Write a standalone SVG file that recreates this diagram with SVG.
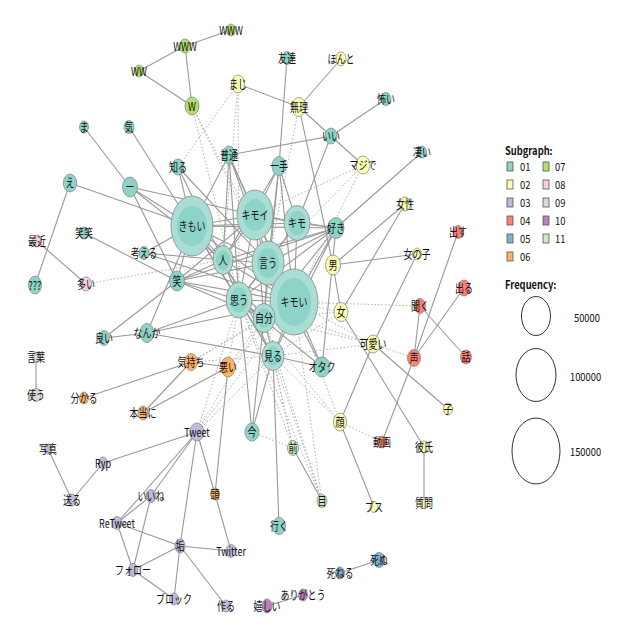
<svg xmlns="http://www.w3.org/2000/svg" width="640" height="640" viewBox="0 0 640 640">
<style>
.e line{stroke:#999;stroke-width:1.1}
.d line{stroke:#b0b0b0;stroke-width:1;stroke-dasharray:1.5 2}
ellipse{stroke:#8a8a8a;stroke-width:.8}
.in{stroke:none}
.c01{fill:#8dd3c7}.c02{fill:#ffffb3}.c03{fill:#bebada}.c04{fill:#fb8072}.c05{fill:#80b1d3}.c06{fill:#fdb462}.c07{fill:#b3de69}.c08{fill:#fccde5}.c09{fill:#d9d9d9}.c10{fill:#bc80bd}.c11{fill:#ccebc5}
.o{fill:#a9ded5}
text{font-family:"Noto Sans CJK JP","Noto Sans",sans-serif;font-size:12px;fill:#111}
.t{text-anchor:middle;dominant-baseline:central;transform:scaleX(.75);transform-box:fill-box;transform-origin:50% 50%}
.lg{font-size:11px;dominant-baseline:central;transform:scaleX(.85);transform-box:fill-box;transform-origin:0 50%}
.lb{font-weight:bold}
.sq{stroke:#555;stroke-width:.8}
.fc{fill:none;stroke:#333;stroke-width:1}
</style>
<rect width="640" height="640" fill="#fff"/>
<g id="edges">
<g class="e">
<line x1="231" y1="30" x2="185" y2="46"/><line x1="185" y1="46" x2="139" y2="71"/><line x1="185" y1="46" x2="192" y2="106"/><line x1="139" y1="71" x2="192" y2="106"/>
<line x1="238" y1="84" x2="299" y2="107"/><line x1="341" y1="59" x2="299" y2="107"/><line x1="299" y1="107" x2="331" y2="136"/><line x1="331" y1="136" x2="386" y2="99"/><line x1="331" y1="136" x2="363" y2="165"/><line x1="331" y1="136" x2="229" y2="155"/><line x1="331" y1="136" x2="297" y2="223"/><line x1="299" y1="107" x2="333" y2="265"/><line x1="287" y1="58" x2="279" y2="166"/>
<line x1="422" y1="152" x2="336" y2="228"/><line x1="405" y1="204" x2="333" y2="265"/><line x1="405" y1="204" x2="341" y2="312"/><line x1="333" y1="265" x2="417" y2="254"/><line x1="333" y1="265" x2="341" y2="312"/><line x1="417" y1="254" x2="373" y2="344"/><line x1="373" y1="344" x2="340" y2="422"/><line x1="341" y1="312" x2="424" y2="447"/><line x1="373" y1="344" x2="448" y2="409"/><line x1="340" y1="422" x2="374" y2="507"/><line x1="424" y1="447" x2="424" y2="503"/>
<line x1="420" y1="306" x2="414" y2="358"/><line x1="420" y1="306" x2="466" y2="357"/><line x1="414" y1="358" x2="458" y2="232"/><line x1="414" y1="358" x2="464" y2="288"/><line x1="414" y1="358" x2="382" y2="442"/>
<line x1="84" y1="127" x2="130" y2="187"/><line x1="129" y1="127" x2="192" y2="226"/><line x1="70" y1="183" x2="192" y2="226"/><line x1="70" y1="183" x2="35" y2="285"/><line x1="130" y1="187" x2="192" y2="226"/><line x1="130" y1="187" x2="255" y2="215"/><line x1="130" y1="187" x2="223" y2="260"/><line x1="130" y1="187" x2="177" y2="281"/>
<line x1="178" y1="167" x2="223" y2="260"/><line x1="178" y1="167" x2="268" y2="263"/><line x1="178" y1="167" x2="192" y2="226"/>
<line x1="37" y1="241" x2="86" y2="284"/><line x1="84" y1="233" x2="177" y2="281"/><line x1="36" y1="357" x2="36" y2="395"/>
<line x1="84" y1="398" x2="191" y2="362"/><line x1="191" y1="362" x2="143" y2="413"/><line x1="191" y1="362" x2="228" y2="367"/><line x1="143" y1="413" x2="228" y2="367"/><line x1="228" y1="367" x2="215" y2="494"/><line x1="215" y1="494" x2="231" y2="551"/><line x1="197" y1="432" x2="215" y2="494"/>
<line x1="197" y1="432" x2="103" y2="463"/><line x1="197" y1="432" x2="117" y2="523"/><line x1="197" y1="432" x2="151" y2="496"/><line x1="197" y1="432" x2="180" y2="546"/><line x1="103" y1="463" x2="72" y2="500"/><line x1="72" y1="500" x2="48" y2="449"/><line x1="151" y1="496" x2="117" y2="523"/><line x1="151" y1="496" x2="133" y2="570"/><line x1="117" y1="523" x2="133" y2="570"/><line x1="117" y1="523" x2="180" y2="546"/><line x1="180" y1="546" x2="133" y2="570"/><line x1="180" y1="546" x2="174" y2="599"/><line x1="133" y1="570" x2="174" y2="599"/><line x1="180" y1="546" x2="231" y2="551"/><line x1="180" y1="546" x2="226" y2="606"/>
<line x1="379" y1="560" x2="340" y2="573"/><line x1="267" y1="606" x2="303" y2="595"/><line x1="293" y1="448" x2="322" y2="501"/>
<line x1="273" y1="356" x2="279" y2="526"/><line x1="273" y1="356" x2="252" y2="432"/><line x1="239" y1="300" x2="252" y2="432"/><line x1="264" y1="318" x2="252" y2="432"/>
<line x1="147" y1="333" x2="104" y2="338"/><line x1="104" y1="338" x2="177" y2="281"/><line x1="192" y1="226" x2="147" y2="333"/><line x1="147" y1="333" x2="239" y2="300"/><line x1="147" y1="333" x2="294" y2="302"/><line x1="147" y1="333" x2="273" y2="356"/>
<line x1="144" y1="253" x2="192" y2="226"/><line x1="144" y1="253" x2="223" y2="260"/><line x1="144" y1="253" x2="294" y2="302"/>
<line x1="192" y1="226" x2="255" y2="215"/><line x1="192" y1="226" x2="223" y2="260"/><line x1="192" y1="226" x2="268" y2="263"/><line x1="192" y1="226" x2="239" y2="300"/><line x1="192" y1="226" x2="294" y2="302"/><line x1="192" y1="226" x2="264" y2="318"/><line x1="192" y1="226" x2="273" y2="356"/><line x1="192" y1="226" x2="177" y2="281"/><line x1="192" y1="226" x2="336" y2="228"/><line x1="192" y1="226" x2="297" y2="223"/>
<line x1="255" y1="215" x2="297" y2="223"/><line x1="255" y1="215" x2="223" y2="260"/><line x1="255" y1="215" x2="268" y2="263"/><line x1="255" y1="215" x2="239" y2="300"/><line x1="255" y1="215" x2="294" y2="302"/><line x1="255" y1="215" x2="264" y2="318"/><line x1="255" y1="215" x2="336" y2="228"/>
<line x1="297" y1="223" x2="336" y2="228"/><line x1="297" y1="223" x2="268" y2="263"/><line x1="297" y1="223" x2="294" y2="302"/><line x1="297" y1="223" x2="239" y2="300"/>
<line x1="223" y1="260" x2="268" y2="263"/><line x1="223" y1="260" x2="239" y2="300"/><line x1="223" y1="260" x2="294" y2="302"/><line x1="223" y1="260" x2="177" y2="281"/><line x1="223" y1="260" x2="273" y2="356"/>
<line x1="268" y1="263" x2="294" y2="302"/><line x1="268" y1="263" x2="239" y2="300"/><line x1="268" y1="263" x2="264" y2="318"/><line x1="268" y1="263" x2="336" y2="228"/>
<line x1="294" y1="302" x2="239" y2="300"/><line x1="294" y1="302" x2="264" y2="318"/><line x1="294" y1="302" x2="273" y2="356"/><line x1="294" y1="302" x2="322" y2="367"/><line x1="294" y1="302" x2="336" y2="228"/>
<line x1="239" y1="300" x2="264" y2="318"/><line x1="239" y1="300" x2="273" y2="356"/><line x1="239" y1="300" x2="177" y2="281"/><line x1="264" y1="318" x2="273" y2="356"/><line x1="273" y1="356" x2="322" y2="367"/><line x1="268" y1="263" x2="322" y2="367"/><line x1="239" y1="300" x2="322" y2="367"/>
<line x1="279" y1="166" x2="255" y2="215"/><line x1="279" y1="166" x2="223" y2="260"/><line x1="279" y1="166" x2="268" y2="263"/><line x1="279" y1="166" x2="294" y2="302"/><line x1="279" y1="166" x2="264" y2="318"/><line x1="279" y1="166" x2="297" y2="223"/>
<line x1="229" y1="155" x2="223" y2="260"/><line x1="229" y1="155" x2="268" y2="263"/><line x1="229" y1="155" x2="239" y2="300"/><line x1="229" y1="155" x2="294" y2="302"/><line x1="229" y1="155" x2="255" y2="215"/><line x1="229" y1="155" x2="192" y2="226"/>
<line x1="177" y1="281" x2="294" y2="302"/><line x1="177" y1="281" x2="268" y2="263"/><line x1="177" y1="281" x2="264" y2="318"/><line x1="177" y1="281" x2="255" y2="215"/>
<line x1="336" y1="228" x2="223" y2="260"/><line x1="336" y1="228" x2="239" y2="300"/><line x1="336" y1="228" x2="177" y2="281"/><line x1="336" y1="228" x2="322" y2="367"/><line x1="336" y1="228" x2="264" y2="318"/><line x1="336" y1="228" x2="273" y2="356"/>
</g>
<g class="d">
<line x1="192" y1="106" x2="268" y2="263"/><line x1="192" y1="106" x2="294" y2="302"/><line x1="192" y1="106" x2="239" y2="300"/>
<line x1="238" y1="84" x2="178" y2="167"/><line x1="238" y1="84" x2="223" y2="260"/><line x1="238" y1="84" x2="239" y2="300"/>
<line x1="363" y1="165" x2="255" y2="215"/><line x1="363" y1="165" x2="268" y2="263"/><line x1="363" y1="165" x2="294" y2="302"/><line x1="299" y1="107" x2="268" y2="263"/>
<line x1="294" y1="302" x2="420" y2="306"/><line x1="341" y1="312" x2="294" y2="302"/><line x1="341" y1="312" x2="264" y2="318"/><line x1="341" y1="312" x2="273" y2="356"/>
<line x1="373" y1="344" x2="294" y2="302"/><line x1="373" y1="344" x2="273" y2="356"/><line x1="373" y1="344" x2="414" y2="358"/><line x1="373" y1="344" x2="264" y2="318"/><line x1="373" y1="344" x2="239" y2="300"/>
<line x1="340" y1="422" x2="273" y2="356"/><line x1="340" y1="422" x2="239" y2="300"/><line x1="340" y1="422" x2="382" y2="442"/><line x1="340" y1="422" x2="294" y2="302"/>
<line x1="293" y1="448" x2="273" y2="356"/><line x1="293" y1="448" x2="239" y2="300"/><line x1="293" y1="448" x2="264" y2="318"/><line x1="293" y1="448" x2="252" y2="432"/>
<line x1="322" y1="501" x2="273" y2="356"/><line x1="322" y1="501" x2="264" y2="318"/><line x1="322" y1="501" x2="294" y2="302"/><line x1="322" y1="501" x2="239" y2="300"/>
<line x1="197" y1="432" x2="239" y2="300"/><line x1="197" y1="432" x2="264" y2="318"/><line x1="197" y1="432" x2="273" y2="356"/><line x1="197" y1="432" x2="294" y2="302"/>
<line x1="191" y1="362" x2="273" y2="356"/><line x1="191" y1="362" x2="264" y2="318"/><line x1="191" y1="362" x2="294" y2="302"/>
<line x1="228" y1="367" x2="294" y2="302"/><line x1="228" y1="367" x2="264" y2="318"/><line x1="228" y1="367" x2="239" y2="300"/>
<line x1="86" y1="284" x2="223" y2="260"/>
</g>
</g>
<g id="nodes">
<g id="n-www1"><ellipse class="c07" cx="231" cy="30" rx="4.5" ry="6"/><text class="t" x="231" y="30">WWW</text></g>
<g id="n-www2"><ellipse class="c07" cx="185" cy="46" rx="5.5" ry="7"/><text class="t" x="185" y="46">WWW</text></g>
<g id="n-ww"><ellipse class="c07" cx="139" cy="71" rx="4.5" ry="6"/><text class="t" x="139" y="71">WW</text></g>
<g id="n-w"><ellipse class="c07" cx="192" cy="106" rx="7" ry="9"/><text class="t" x="192" y="106">W</text></g>
<g id="n-maji"><ellipse class="c02" cx="238" cy="84" rx="6.5" ry="9"/><text class="t" x="238" y="84">まじ</text></g>
<g id="n-tomodachi"><ellipse class="c01" cx="287" cy="58" rx="5" ry="6.5"/><text class="t" x="287" y="58">友達</text></g>
<g id="n-honto"><ellipse class="c02" cx="341" cy="59" rx="5" ry="7"/><text class="t" x="341" y="59">ほんと</text></g>
<g id="n-muri"><ellipse class="c02" cx="299" cy="107" rx="7" ry="9.5"/><text class="t" x="299" y="107">無理</text></g>
<g id="n-kowai"><ellipse class="c01" cx="386" cy="99" rx="5" ry="6.5"/><text class="t" x="386" y="99">怖い</text></g>
<g id="n-ii"><ellipse class="c01" cx="331" cy="136" rx="6" ry="8"/><text class="t" x="331" y="136">いい</text></g>
<g id="n-ma"><ellipse class="c01" cx="84" cy="127" rx="4.5" ry="6"/><text class="t" x="84" y="127">ま</text></g>
<g id="n-ki"><ellipse class="c01" cx="129" cy="127" rx="5" ry="6.5"/><text class="t" x="129" y="127">気</text></g>
<g id="n-futsu"><ellipse class="c01" cx="229" cy="155" rx="6.5" ry="9"/><text class="t" x="229" y="155">普通</text></g>
<g id="n-itte"><ellipse class="c01" cx="279" cy="166" rx="7" ry="9.5"/><text class="t" x="279" y="166">一手</text></g>
<g id="n-majide"><ellipse class="c02" cx="363" cy="165" rx="7" ry="9"/><text class="t" x="363" y="165">マジで</text></g>
<g id="n-sugoi"><ellipse class="c01" cx="422" cy="152" rx="4.5" ry="6"/><text class="t" x="422" y="152">凄い</text></g>
<g id="n-shiru"><ellipse class="c01" cx="178" cy="167" rx="6" ry="8"/><text class="t" x="178" y="167">知る</text></g>
<g id="n-e"><ellipse class="c01" cx="70" cy="183" rx="6.7" ry="9"/><text class="t" x="70" y="183">え</text></g>
<g id="n-bar"><ellipse class="c01" cx="130" cy="187" rx="7.5" ry="10"/><text class="t" x="130" y="187">ー</text></g>
<g id="n-kimoi-h"><ellipse class="o" cx="192" cy="226" rx="21" ry="30"/><ellipse class="c01 in" cx="192" cy="226" rx="15" ry="20"/><text class="t" x="192" y="226">きもい</text></g>
<g id="n-kimoi-k"><ellipse class="o" cx="255" cy="215" rx="18" ry="25"/><ellipse class="c01 in" cx="255" cy="215" rx="12" ry="16"/><text class="t" x="255" y="215">キモイ</text></g>
<g id="n-kimo"><ellipse class="o" cx="297" cy="223" rx="13" ry="17.5"/><ellipse class="c01 in" cx="297" cy="223" rx="9" ry="12"/><text class="t" x="297" y="223">キモ</text></g>
<g id="n-suki"><ellipse class="c01" cx="336" cy="228" rx="8" ry="10.5"/><text class="t" x="336" y="228">好き</text></g>
<g id="n-josei"><ellipse class="c02" cx="405" cy="204" rx="5.5" ry="7"/><text class="t" x="405" y="204">女性</text></g>
<g id="n-dasu"><ellipse class="c04" cx="458" cy="232" rx="5" ry="6.5"/><text class="t" x="458" y="232">出す</text></g>
<g id="n-warawara"><ellipse class="c01" cx="84" cy="233" rx="4.5" ry="6"/><text class="t" x="84" y="233">笑笑</text></g>
<g id="n-saikin"><ellipse class="c08" cx="37" cy="241" rx="4.5" ry="6"/><text class="t" x="37" y="241">最近</text></g>
<g id="n-kangaeru"><ellipse class="c01" cx="144" cy="253" rx="5" ry="6.5"/><text class="t" x="144" y="253">考える</text></g>
<g id="n-onnanoko"><ellipse class="c02" cx="417" cy="254" rx="4.5" ry="6"/><text class="t" x="417" y="254">女の子</text></g>
<g id="n-otoko"><ellipse class="c02" cx="333" cy="265" rx="7.5" ry="10"/><text class="t" x="333" y="265">男</text></g>
<g id="n-hito"><ellipse class="o" cx="223" cy="260" rx="10" ry="14.5"/><ellipse class="c01 in" cx="223" cy="260" rx="7" ry="10"/><text class="t" x="223" y="260">人</text></g>
<g id="n-iu"><ellipse class="o" cx="268" cy="263" rx="16" ry="22"/><ellipse class="c01 in" cx="268" cy="263" rx="11" ry="15"/><text class="t" x="268" y="263">言う</text></g>
<g id="n-wara"><ellipse class="c01" cx="177" cy="281" rx="7.5" ry="10"/><text class="t" x="177" y="281">笑</text></g>
<g id="n-ooi"><ellipse class="c08" cx="86" cy="284" rx="5.5" ry="7"/><text class="t" x="86" y="284">多い</text></g>
<g id="n-q"><ellipse class="c01" cx="35" cy="285" rx="6.5" ry="9"/><text class="t" x="35" y="285">???</text></g>
<g id="n-deru"><ellipse class="c04" cx="464" cy="288" rx="6" ry="8"/><text class="t" x="464" y="288">出る</text></g>
<g id="n-kimoi-kh"><ellipse class="o" cx="294" cy="302" rx="24" ry="33"/><ellipse class="c01 in" cx="294" cy="302" rx="17" ry="24"/><text class="t" x="294" y="302">キモい</text></g>
<g id="n-omou"><ellipse class="o" cx="239" cy="300" rx="13" ry="18"/><ellipse class="c01 in" cx="239" cy="300" rx="9" ry="12.5"/><text class="t" x="239" y="300">思う</text></g>
<g id="n-kiku"><ellipse class="c04" cx="420" cy="306" rx="5.5" ry="7.5"/><text class="t" x="420" y="306">聞く</text></g>
<g id="n-onna"><ellipse class="c02" cx="341" cy="312" rx="7" ry="9.5"/><text class="t" x="341" y="312">女</text></g>
<g id="n-jibun"><ellipse class="o" cx="264" cy="318" rx="11" ry="14.5"/><ellipse class="c01 in" cx="264" cy="318" rx="7.5" ry="10"/><text class="t" x="264" y="318">自分</text></g>
<g id="n-yoi"><ellipse class="c01" cx="104" cy="338" rx="5.5" ry="7.5"/><text class="t" x="104" y="338">良い</text></g>
<g id="n-nanka"><ellipse class="c01" cx="147" cy="333" rx="7" ry="9.5"/><text class="t" x="147" y="333">なんか</text></g>
<g id="n-kawaii"><ellipse class="c02" cx="373" cy="344" rx="7" ry="9"/><text class="t" x="373" y="344">可愛い</text></g>
<g id="n-miru"><ellipse class="o" cx="273" cy="356" rx="11" ry="14.5"/><ellipse class="c01 in" cx="273" cy="356" rx="7.5" ry="10"/><text class="t" x="273" y="356">見る</text></g>
<g id="n-koe"><ellipse class="c04" cx="414" cy="358" rx="6.5" ry="8.5"/><text class="t" x="414" y="358">声</text></g>
<g id="n-hanashi"><ellipse class="c04" cx="466" cy="357" rx="5.5" ry="7"/><text class="t" x="466" y="357">話</text></g>
<g id="n-kotoba"><ellipse class="c09" cx="36" cy="357" rx="4" ry="5"/><text class="t" x="36" y="357">言葉</text></g>
<g id="n-kimochi"><ellipse class="c06" cx="191" cy="362" rx="6.5" ry="8.5"/><text class="t" x="191" y="362">気持ち</text></g>
<g id="n-warui"><ellipse class="c06" cx="228" cy="367" rx="7" ry="10"/><text class="t" x="228" y="367">悪い</text></g>
<g id="n-otaku"><ellipse class="c01" cx="322" cy="367" rx="8" ry="10"/><text class="t" x="322" y="367">オタク</text></g>
<g id="n-tsukau"><ellipse class="c09" cx="36" cy="395" rx="5" ry="6.5"/><text class="t" x="36" y="395">使う</text></g>
<g id="n-wakaru"><ellipse class="c06" cx="84" cy="398" rx="4.5" ry="6"/><text class="t" x="84" y="398">分かる</text></g>
<g id="n-ko"><ellipse class="c02" cx="448" cy="409" rx="4.5" ry="6"/><text class="t" x="448" y="409">子</text></g>
<g id="n-hontoni"><ellipse class="c06" cx="143" cy="413" rx="5" ry="7"/><text class="t" x="143" y="413">本当に</text></g>
<g id="n-kao"><ellipse class="c02" cx="340" cy="422" rx="6.5" ry="9"/><text class="t" x="340" y="422">顔</text></g>
<g id="n-tweet"><ellipse class="c03" cx="197" cy="432" rx="7" ry="9"/><text class="t" x="197" y="432">Tweet</text></g>
<g id="n-ima"><ellipse class="c01" cx="252" cy="432" rx="7" ry="9"/><text class="t" x="252" y="432">今</text></g>
<g id="n-douga"><ellipse class="c04" cx="382" cy="442" rx="4.5" ry="6"/><text class="t" x="382" y="442">動画</text></g>
<g id="n-kareshi"><ellipse class="c02" cx="424" cy="447" rx="4.5" ry="6"/><text class="t" x="424" y="447">彼氏</text></g>
<g id="n-mae"><ellipse class="c11" cx="293" cy="448" rx="5.5" ry="7.5"/><text class="t" x="293" y="448">前</text></g>
<g id="n-shashin"><ellipse class="c03" cx="48" cy="449" rx="4" ry="5"/><text class="t" x="48" y="449">写真</text></g>
<g id="n-ryp"><ellipse class="c03" cx="103" cy="463" rx="4.5" ry="6"/><text class="t" x="103" y="463">Ryp</text></g>
<g id="n-atama"><ellipse class="c06" cx="215" cy="494" rx="4.5" ry="6"/><text class="t" x="215" y="494">頭</text></g>
<g id="n-iine"><ellipse class="c03" cx="151" cy="496" rx="5" ry="6.5"/><text class="t" x="151" y="496">いいね</text></g>
<g id="n-okuru"><ellipse class="c03" cx="72" cy="500" rx="4.5" ry="6"/><text class="t" x="72" y="500">送る</text></g>
<g id="n-me"><ellipse class="c11" cx="322" cy="501" rx="5" ry="6.5"/><text class="t" x="322" y="501">目</text></g>
<g id="n-shitsumon"><ellipse class="c02" cx="424" cy="503" rx="4" ry="5.5"/><text class="t" x="424" y="503">質問</text></g>
<g id="n-busu"><ellipse class="c02" cx="374" cy="507" rx="4" ry="5.5"/><text class="t" x="374" y="507">ブス</text></g>
<g id="n-retweet"><ellipse class="c03" cx="117" cy="523" rx="5" ry="6.5"/><text class="t" x="117" y="523">ReTweet</text></g>
<g id="n-iku"><ellipse class="c01" cx="279" cy="526" rx="6.5" ry="8.5"/><text class="t" x="279" y="526">行く</text></g>
<g id="n-aka"><ellipse class="c03" cx="180" cy="546" rx="5" ry="7"/><text class="t" x="180" y="546">垢</text></g>
<g id="n-twitter"><ellipse class="c03" cx="231" cy="551" rx="5" ry="6.5"/><text class="t" x="231" y="551">Twitter</text></g>
<g id="n-shinu"><ellipse class="c05" cx="379" cy="560" rx="6" ry="7.5"/><text class="t" x="379" y="560">死ぬ</text></g>
<g id="n-follow"><ellipse class="c03" cx="133" cy="570" rx="5" ry="6.5"/><text class="t" x="133" y="570">フォロー</text></g>
<g id="n-shineru"><ellipse class="c05" cx="340" cy="573" rx="4.5" ry="6"/><text class="t" x="340" y="573">死ねる</text></g>
<g id="n-arigatou"><ellipse class="c10" cx="303" cy="595" rx="4.5" ry="6"/><text class="t" x="303" y="595">ありがとう</text></g>
<g id="n-block"><ellipse class="c03" cx="174" cy="599" rx="4.5" ry="6"/><text class="t" x="174" y="599">ブロック</text></g>
<g id="n-tsukuru"><ellipse class="c03" cx="226" cy="606" rx="4.5" ry="6"/><text class="t" x="226" y="606">作る</text></g>
<g id="n-ureshii"><ellipse class="c10" cx="267" cy="606" rx="5" ry="7"/><text class="t" x="267" y="606">嬉しい</text></g>
</g>
<g id="legend">
<text class="lg lb" x="505" y="150">Subgraph:</text>
<rect class="sq c01" x="507" y="162" width="6" height="9"/><text class="lg" x="520" y="166">01</text>
<rect class="sq c02" x="507" y="180" width="6" height="9"/><text class="lg" x="520" y="184">02</text>
<rect class="sq c03" x="507" y="198" width="6" height="9"/><text class="lg" x="520" y="202">03</text>
<rect class="sq c04" x="507" y="216" width="6" height="9"/><text class="lg" x="520" y="220">04</text>
<rect class="sq c05" x="507" y="234" width="6" height="9"/><text class="lg" x="520" y="238">05</text>
<rect class="sq c06" x="507" y="252" width="6" height="9"/><text class="lg" x="520" y="256">06</text>
<rect class="sq c07" x="543" y="162" width="6" height="9"/><text class="lg" x="555" y="166">07</text>
<rect class="sq c08" x="543" y="180" width="6" height="9"/><text class="lg" x="555" y="184">08</text>
<rect class="sq c09" x="543" y="198" width="6" height="9"/><text class="lg" x="555" y="202">09</text>
<rect class="sq c10" x="543" y="216" width="6" height="9"/><text class="lg" x="555" y="220">10</text>
<rect class="sq c11" x="543" y="234" width="6" height="9"/><text class="lg" x="555" y="238">11</text>
<text class="lg lb" x="505" y="284">Frequency:</text>
<ellipse class="fc" cx="536" cy="316" rx="14.5" ry="19.5"/><text class="lg" x="574" y="317">50000</text>
<ellipse class="fc" cx="536" cy="375" rx="20" ry="26.5"/><text class="lg" x="570" y="376">100000</text>
<ellipse class="fc" cx="536" cy="451" rx="24" ry="33"/><text class="lg" x="570" y="451">150000</text>
</g>
</svg>
